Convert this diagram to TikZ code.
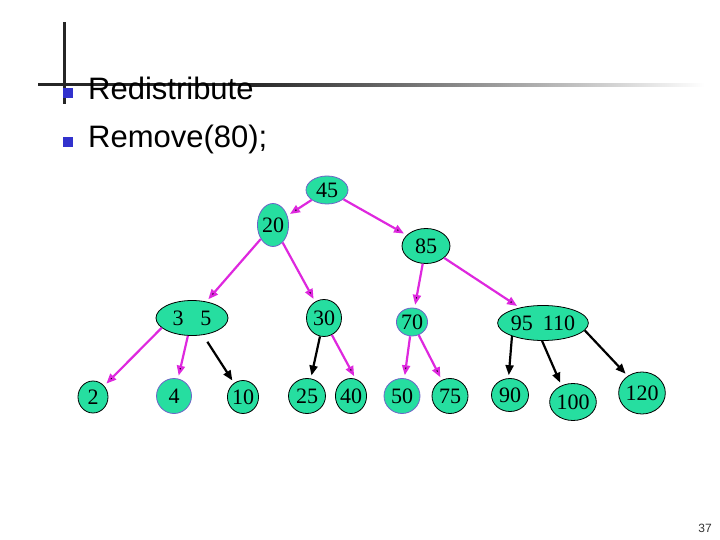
\documentclass[tikz,border=0pt]{standalone}
\usepackage{fontspec}
\setmainfont{Liberation Serif}
\newfontfamily\slidefont{Liberation Sans}
\usetikzlibrary{shapes.geometric}
\usetikzlibrary{arrows.meta}
\definecolor{keyfill}{RGB}{38,222,160}
\definecolor{pinkline}{RGB}{222,40,222}
\definecolor{bulletblue}{RGB}{50,50,205}
\definecolor{softblue}{RGB}{110,100,200}
\tikzstyle{keybox}=[ellipse,draw=black,line width=0.8pt,fill=keyfill,inner sep=0pt,font=\fontsize{22}{22}\selectfont]
\tikzstyle{edgepath} = [every edge/.append style={line width=2.2pt,shorten >=3pt,
    -{Triangle[length=10pt,width=8pt]}}]
\tikzstyle{pinkpath} = [edgepath,draw=pinkline]
\tikzstyle{bulletbox} = [fill=bulletblue,minimum size=10pt,inner sep=0pt]
\tikzstyle{bullettext} = [anchor=base west,inner sep=0pt,font=\slidefont\fontsize{31}{31}\selectfont]

\begin{document}
\begin{tikzpicture}[x=1pt,y=-1pt]
        \useasboundingbox (0,0) rectangle (720,540);

        % title lines
        \fill[black!85] (38,83.5) rectangle (250,86.5);
        \shade[left color=black!85,right color=white] (250,83.5) rectangle (705,86.5);
        \fill[black!85] (62.5,22) rectangle (65.5,104);

        \node[bulletbox] (b1) at (68,93) {};
        \node[bulletbox] (b2) at (68,142) {};
        \node[bullettext] (t1) at (88,100) {Redistribute};
        \node[bullettext] (t2) at (88,148) {Remove(80);};

        % tree
        \node[keybox,draw=softblue,minimum width=42pt,minimum height=28pt] (k45) at (327,190) {45};
        \node[keybox,draw=softblue,minimum width=30pt,minimum height=43pt] (k20) at (273,225) {20};
        \node[keybox,minimum width=48pt,minimum height=35pt] (k85) at (426,246) {85};
        \node[keybox,minimum width=72pt,minimum height=35pt] (k35) at (192,318) {3\hspace{17pt}5};
        \node[keybox,minimum width=35pt,minimum height=37pt] (k30) at (324,318) {30};
        \node[keybox,draw=softblue,minimum width=30pt,minimum height=28pt] (k70) at (412,322) {70};
        \node[keybox,minimum width=90pt,minimum height=35pt] (k95) at (543,323) {95\hspace{10pt}110};

        \node[keybox,minimum width=30pt,minimum height=32pt] (k2) at (93,397) {2\hspace{4pt}};
        \node[keybox,draw=softblue,minimum width=35pt,minimum height=35pt] (k4) at (174,396) {4};
        \node[keybox,minimum width=30pt,minimum height=33pt] (k10) at (243,397) {10};
        \node[keybox,minimum width=37pt,minimum height=35pt] (k25) at (307,396) {25};
        \node[keybox,minimum width=31pt,minimum height=35pt] (k40) at (351,396) {40};
        \node[keybox,draw=softblue,minimum width=36pt,minimum height=35pt] (k50) at (402,396) {50};
        \node[keybox,minimum width=36pt,minimum height=35pt] (k75) at (450,396) {75};
        \node[keybox,minimum width=37pt,minimum height=33pt] (k90) at (510,395) {90};
        \node[keybox,minimum width=42pt,minimum height=37pt] (k100) at (573,402) {100};
        \node[keybox,minimum width=36pt,minimum height=42pt] (k120) at (642,393) {120};

        \path[pinkpath]
            (k45) edge (k20)
            (k45) edge (k85)
            (k20) edge (k35)
            (k20) edge (k30)
            (k85) edge (k70)
            (k85) edge (k95)
            (k35.198) edge (k2.45)
            (k35) edge (k4)
            (k30.-65) edge (k40.75)
            (k70) edge (k50)
            (k70) edge (k75);

        \path[edgepath,draw=black]
            (k35) edge [shorten <=8pt] (k10)
            (k30) edge (k25)
            (k95.-157) edge (k90.95)
            (k95.-93) edge (k100.125)
            (k95.-10) edge (k120.130);

        % page number
        \node[font=\slidefont\fontsize{12}{12}\selectfont,text=black!80] (pg) at (705,528) {37};
    \end{tikzpicture}
\end{document}
